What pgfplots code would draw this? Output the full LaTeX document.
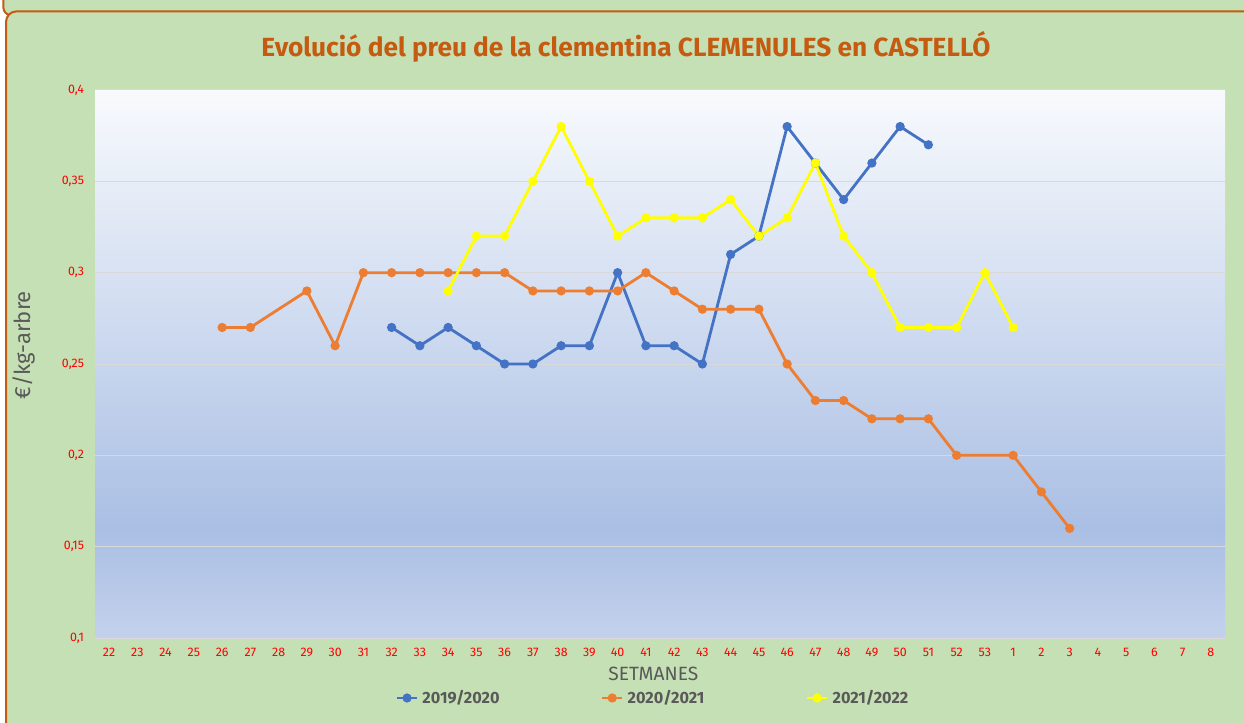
\documentclass[border=0pt]{standalone}
\usepackage{pgfplots}
\pgfplotsset{compat=1.18}
\usepackage{fontspec}
\setmainfont{Fira Sans}
\definecolor{bgreen}{HTML}{C5E0B4}
\definecolor{bord}{HTML}{C55A11}
\definecolor{ttl}{HTML}{C55A11}
\definecolor{gtxt}{HTML}{595959}
\definecolor{cblue}{HTML}{4472C4}
\definecolor{corange}{HTML}{ED7D31}
\definecolor{cyellow}{HTML}{FFFF00}
\definecolor{cbot}{HTML}{C3D1EC}
\definecolor{cmid}{HTML}{AABFE4}
\definecolor{ctop}{HTML}{F8FAFD}
\definecolor{gridc}{HTML}{D9D9D9}
\pgfdeclareverticalshading{plotbg}{100bp}{color(0bp)=(cbot); color(25bp)=(cbot); color(35bp)=(cmid); color(75bp)=(ctop); color(100bp)=(ctop)}
\begin{document}
\begin{tikzpicture}
\useasboundingbox (0,0) rectangle (933pt,541.5pt);
\clip (0,0) rectangle (933pt,541.5pt);
\fill[white] (0,0) rectangle (933pt,541.5pt);
% previous frame strip
\draw[bord, line width=1.5pt, fill=bgreen, rounded corners=6pt] (2.5pt,530pt) rectangle (945pt,560pt);
% main frame
\draw[bord, line width=1.5pt, fill=bgreen, rounded corners=8pt] (4.5pt,-20pt) rectangle (945pt,533pt);
\node[text=ttl, font=\fontsize{19.7}{22}\selectfont\bfseries] at (469.5pt,506pt) {Evolució del preu de la clementina CLEMENULES en CASTELLÓ};
\begin{axis}[
  at={(71.25pt,63pt)}, anchor=south west,
  width=847.5pt, height=411pt, scale only axis,
  xmin=-0.5, xmax=39.5, ymin=0.1, ymax=0.4,
  axis background/.style={shading=plotbg},
  axis line style={draw=none},
  major tick length=0pt,
  xtick={0,...,39},
  xticklabels={22,23,24,25,26,27,28,29,30,31,32,33,34,35,36,37,38,39,40,41,42,43,44,45,46,47,48,49,50,51,52,53,1,2,3,4,5,6,7,8},
  ytick={0.1,0.15,0.2,0.25,0.3,0.35,0.4},
  /pgf/number format/use comma,
  /pgf/number format/assume math mode=true,
  ymajorgrids, major grid style={gridc, line width=0.75pt},
  ticklabel style={text=red, font=\fontsize{9.3}{11}\selectfont},
  yticklabel style={anchor=east, inner sep=0pt, xshift=-8pt},
  xticklabel style={anchor=center, inner sep=0pt, yshift=-10.5pt},
  xlabel={SETMANES}, ylabel={€/kg-arbre},
  xlabel style={at={(axis description cs:0.5,0)}, anchor=center, yshift=-27pt, xshift=-5pt, text=gtxt, font=\fontsize{14.4}{16}\selectfont},
  ylabel style={at={(axis description cs:0,0.5)}, anchor=center, yshift=53.5pt, xshift=14pt, text=gtxt, font=\fontsize{16.5}{18}\selectfont},
  legend columns=3,
  legend style={at={(axis description cs:0.5,0)}, anchor=center, yshift=-45pt, xshift=-5pt, draw=none, fill=none, text=gtxt, font=\fontsize{12.2}{14}\selectfont\bfseries, /tikz/every even column/.append style={column sep=74pt}, /tikz/every odd column/.append style={column sep=1pt}},
  legend image code/.code={\draw[#1, mark repeat=2, mark phase=2] plot coordinates {(0pt,0pt) (7.5pt,0pt) (15pt,0pt)};},
  every axis plot/.append style={line width=2.1pt, mark=*, mark size=2.35pt},
]
\addplot[cblue, mark options={solid, draw=none, fill=cblue}] coordinates {
(10,0.27) (11,0.26) (12,0.27) (13,0.26) (14,0.25) (15,0.25) (16,0.26) (17,0.26) (18,0.30) (19,0.26) (20,0.26) (21,0.25) (22,0.31) (23,0.32) (24,0.38) (25,0.36) (26,0.34) (27,0.36) (28,0.38) (29,0.37)};
\addlegendentry{2019/2020}
\addplot[corange, mark options={solid, draw=none, fill=corange}] coordinates {
(4,0.27) (5,0.27) (7,0.29) (8,0.26) (9,0.30) (10,0.30) (11,0.30) (12,0.30) (13,0.30) (14,0.30) (15,0.29) (16,0.29) (17,0.29) (18,0.29) (19,0.30) (20,0.29) (21,0.28) (22,0.28) (23,0.28) (24,0.25) (25,0.23) (26,0.23) (27,0.22) (28,0.22) (29,0.22) (30,0.20) (32,0.20) (33,0.18) (34,0.16)};
\addlegendentry{2020/2021}
\addplot[cyellow, mark options={solid, draw=none, fill=cyellow}] coordinates {
(12,0.29) (13,0.32) (14,0.32) (15,0.35) (16,0.38) (17,0.35) (18,0.32) (19,0.33) (20,0.33) (21,0.33) (22,0.34) (23,0.32) (24,0.33) (25,0.36) (26,0.32) (27,0.30) (28,0.27) (29,0.27) (30,0.27) (31,0.30) (32,0.27)};
\addlegendentry{2021/2022}
\end{axis}
\end{tikzpicture}
\end{document}
